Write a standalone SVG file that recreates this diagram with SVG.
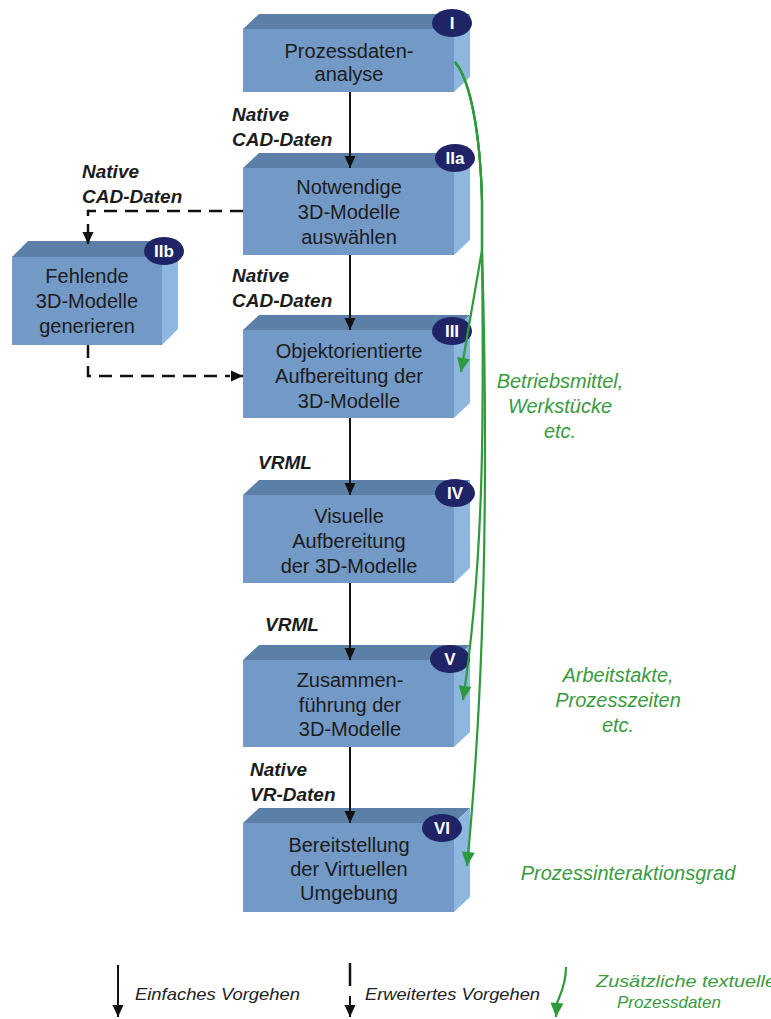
<svg xmlns="http://www.w3.org/2000/svg" width="771" height="1019" viewBox="0 0 771 1019">
  <style>
    .front { fill: #7399c6; }
    .top { fill: #5b7fa6; }
    .side { fill: #8db7df; }
    .badge { fill: #1f2466; }
    .badge-t { font-family: "Liberation Sans", Arial, sans-serif; font-size: 17px; font-weight: bold; fill: #ffffff; text-anchor: middle; }
    .box-t { font-family: "Liberation Sans", Arial, sans-serif; font-size: 20px; fill: #1c1c1c; text-anchor: middle; }
    .lbl { font-family: "Liberation Sans", Arial, sans-serif; font-size: 19px; font-weight: bold; font-style: italic; fill: #1c1c1c; }
    .note { font-family: "Liberation Sans", Arial, sans-serif; font-size: 20px; font-style: italic; fill: #3a9a3e; text-anchor: middle; }
    .leg { font-family: "Liberation Sans", Arial, sans-serif; font-size: 17px; font-style: italic; fill: #222222; }
    .leg-g { font-family: "Liberation Sans", Arial, sans-serif; font-size: 17px; font-style: italic; fill: #3a9a3e; }
    .solid { fill: none; stroke: #111111; stroke-width: 2; marker-end: url(#ah); }
    .dash { fill: none; stroke: #111111; stroke-width: 2.5; stroke-dasharray: 13 8; }
    .green { fill: none; stroke: #2e9a3c; stroke-width: 2.2; marker-end: url(#ag); }
  </style>
  <defs>
    <marker id="ah" markerUnits="userSpaceOnUse" markerWidth="14" markerHeight="14" viewBox="0 0 14 14" refX="13" refY="7" orient="auto">
      <path d="M1,1.5 L13,7 L1,12.5 Z" fill="#111111"/>
    </marker>
    <marker id="ag" markerUnits="userSpaceOnUse" markerWidth="16" markerHeight="16" viewBox="0 0 16 16" refX="15" refY="8" orient="auto">
      <path d="M1,1.5 L15,8 L1,14.5 Z" fill="#2e9a3c"/>
    </marker>
  </defs>

  <!-- I: Prozessdatenanalyse -->
  <g id="node-I">
    <polygon class="top" points="243,29 259,14 470,14 454,29"/>
    <polygon class="side" points="454,29 470,14 470,77 454,92"/>
    <rect class="front" x="243" y="29" width="211" height="63"/>
    <ellipse class="badge" cx="452" cy="23" rx="20" ry="14"/>
    <text class="badge-t" x="452" y="29">I</text>
    <text class="box-t" x="349" y="58">Prozessdaten-</text>
    <text class="box-t" x="349" y="81">analyse</text>
  </g>

  <!-- IIa -->
  <g id="node-IIa">
    <polygon class="top" points="243,168 259,153 470,153 454,168"/>
    <polygon class="side" points="454,168 470,153 470,240 454,255"/>
    <rect class="front" x="243" y="168" width="211" height="87"/>
    <ellipse class="badge" cx="455" cy="158" rx="20" ry="14"/>
    <text class="badge-t" x="455" y="164">IIa</text>
    <text class="box-t" x="349" y="194">Notwendige</text>
    <text class="box-t" x="349" y="219">3D-Modelle</text>
    <text class="box-t" x="349" y="244">auswählen</text>
  </g>

  <!-- IIb -->
  <g id="node-IIb">
    <polygon class="top" points="12,257 28,241 178,241 162,257"/>
    <polygon class="side" points="162,257 178,241 178,329 162,345"/>
    <rect class="front" x="12" y="257" width="150" height="88"/>
    <ellipse class="badge" cx="164" cy="251" rx="20" ry="14"/>
    <text class="badge-t" x="164" y="257">IIb</text>
    <text class="box-t" x="87" y="283">Fehlende</text>
    <text class="box-t" x="87" y="308">3D-Modelle</text>
    <text class="box-t" x="87" y="333">generieren</text>
  </g>

  <!-- III -->
  <g id="node-III">
    <polygon class="top" points="243,330 259,315 470,315 454,330"/>
    <polygon class="side" points="454,330 470,315 470,403 454,418"/>
    <rect class="front" x="243" y="330" width="211" height="88"/>
    <ellipse class="badge" cx="452" cy="331" rx="20" ry="14"/>
    <text class="badge-t" x="452" y="337">III</text>
    <text class="box-t" x="349" y="358">Objektorientierte</text>
    <text class="box-t" x="349" y="383">Aufbereitung der</text>
    <text class="box-t" x="349" y="408">3D-Modelle</text>
  </g>

  <!-- IV -->
  <g id="node-IV">
    <polygon class="top" points="243,495 259,480 470,480 454,495"/>
    <polygon class="side" points="454,495 470,480 470,568 454,583"/>
    <rect class="front" x="243" y="495" width="211" height="88"/>
    <ellipse class="badge" cx="455" cy="493" rx="20" ry="14"/>
    <text class="badge-t" x="455" y="499">IV</text>
    <text class="box-t" x="349" y="523">Visuelle</text>
    <text class="box-t" x="349" y="548">Aufbereitung</text>
    <text class="box-t" x="349" y="573">der 3D-Modelle</text>
  </g>

  <!-- V -->
  <g id="node-V">
    <polygon class="top" points="243,660 259,645 470,645 454,660"/>
    <polygon class="side" points="454,660 470,645 470,732 454,747"/>
    <rect class="front" x="243" y="660" width="211" height="87"/>
    <ellipse class="badge" cx="450" cy="659" rx="20" ry="14"/>
    <text class="badge-t" x="450" y="665">V</text>
    <text class="box-t" x="350" y="687">Zusammen-</text>
    <text class="box-t" x="350" y="712">führung der</text>
    <text class="box-t" x="350" y="736">3D-Modelle</text>
  </g>

  <!-- VI -->
  <g id="node-VI">
    <polygon class="top" points="243,823 259,808 470,808 454,823"/>
    <polygon class="side" points="454,823 470,808 470,897 454,912"/>
    <rect class="front" x="243" y="823" width="211" height="89"/>
    <ellipse class="badge" cx="442" cy="828" rx="20" ry="14"/>
    <text class="badge-t" x="442" y="834">VI</text>
    <text class="box-t" x="349" y="852">Bereitstellung</text>
    <text class="box-t" x="349" y="876">der Virtuellen</text>
    <text class="box-t" x="349" y="900">Umgebung</text>
  </g>

  <!-- connectors -->
  <g id="connectors">
    <path class="solid" d="M350,92 L350,168"/>
    <path class="solid" d="M350,255 L350,330"/>
    <path class="solid" d="M350,418 L350,495"/>
    <path class="solid" d="M350,583 L350,660"/>
    <path class="solid" d="M350,747 L350,823"/>

    <path class="dash" d="M243,211 L88,211 L88,240"/>
    <path d="M88,240 L88,244" stroke="#111111" stroke-width="2.5" marker-end="url(#ah)"/>
    <path class="dash" d="M88,345 L88,376 L230,376"/>
    <path d="M232,376 L243,376" stroke="#111111" stroke-width="2.5" marker-end="url(#ah)"/>

    <path class="green" d="M455,62 C470,80 480,130 482,200 L482,250 L461,372"/>
    <path class="green" d="M455,62 C470,80 480,130 482,200 L482,250 C484,420 484,560 463,700"/>
    <path class="green" d="M455,62 C470,80 480,130 482,200 L482,250 C487,420 488,650 467,866"/>
  </g>

  <!-- flow labels -->
  <g id="labels">
    <text class="lbl" x="232" y="121">Native</text>
    <text class="lbl" x="232" y="146">CAD-Daten</text>
    <text class="lbl" x="82" y="178">Native</text>
    <text class="lbl" x="82" y="203">CAD-Daten</text>
    <text class="lbl" x="232" y="282">Native</text>
    <text class="lbl" x="232" y="307">CAD-Daten</text>
    <text class="lbl" x="258" y="469">VRML</text>
    <text class="lbl" x="265" y="631">VRML</text>
    <text class="lbl" x="250" y="776">Native</text>
    <text class="lbl" x="250" y="801">VR-Daten</text>

    <text class="note" x="560" y="388">Betriebsmittel,</text>
    <text class="note" x="560" y="413">Werkstücke</text>
    <text class="note" x="560" y="438">etc.</text>
    <text class="note" x="618" y="682">Arbeitstakte,</text>
    <text class="note" x="618" y="707">Prozesszeiten</text>
    <text class="note" x="618" y="732">etc.</text>
    <text class="note" x="628" y="880">Prozessinteraktionsgrad</text>
  </g>

  <!-- legend -->
  <g id="legend">
    <path class="solid" d="M118,965 L118,1017"/>
    <text class="leg" x="135" y="1000" textLength="165" lengthAdjust="spacingAndGlyphs">Einfaches Vorgehen</text>
    <path d="M350,963 L350,986" stroke="#111111" stroke-width="2.5"/>
    <path class="solid" d="M350,996 L350,1017"/>
    <text class="leg" x="365" y="1000" textLength="175" lengthAdjust="spacingAndGlyphs">Erweitertes Vorgehen</text>
    <path class="green" d="M566,967 C566,985 560,995 557,1003 L556,1017"/>
    <text class="leg-g" x="596" y="987" textLength="180" lengthAdjust="spacingAndGlyphs">Zusätzliche textuelle</text>
    <text class="leg-g" x="669" y="1008" text-anchor="middle">Prozessdaten</text>
  </g>
</svg>
